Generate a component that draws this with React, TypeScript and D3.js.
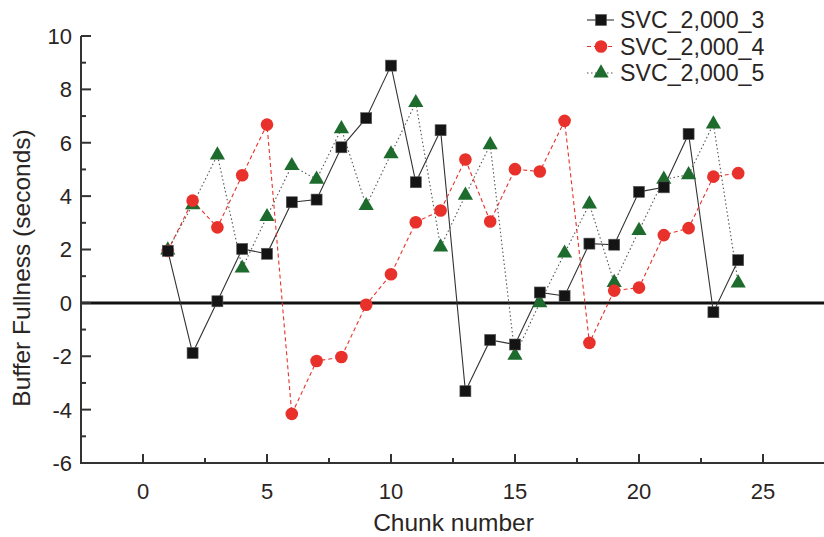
import React from "react";
import * as d3 from "d3";

const chunks = [1,2,3,4,5,6,7,8,9,10,11,12,13,14,15,16,17,18,19,20,21,22,23,24];
const svc3 = [1.95,-1.88,0.06,2.02,1.84,3.77,3.87,5.83,6.92,8.89,4.52,6.47,-3.31,-1.39,-1.56,0.39,0.26,2.22,2.18,4.16,4.33,6.33,-0.35,1.6];
const svc4 = [1.95,3.83,2.83,4.78,6.68,-4.16,-2.18,-2.03,-0.07,1.07,3.02,3.46,5.37,3.05,5.01,4.92,6.82,-1.5,0.46,0.57,2.54,2.8,4.73,4.86];
const svc5 = [1.98,3.67,5.54,1.3,3.23,5.14,4.63,6.52,3.64,5.58,7.5,2.09,4.03,5.92,-1.97,0.0,1.86,3.7,0.76,2.71,4.63,4.8,6.7,0.74];
const seriesNames = ["SVC_2,000_3","SVC_2,000_4","SVC_2,000_5"];
const yTicks = [-6,-4,-2,0,2,4,6,8,10];
const xTicks = [0,5,10,15,20,25];
const yMinor = [-5,-3,-1,1,3,5,7,9];
const xMinor = [-2.5,2.5,7.5,12.5,17.5,22.5,27.5];

const W = 824, H = 537;
const x = d3.scaleLinear().domain([-2.5, 27.5]).range([81, 825]);
const y = d3.scaleLinear().domain([-6, 10]).range([463, 36]);
const font = "Arial, 'Liberation Sans', sans-serif";
const textColor = "#2a2523";

const styles = [
  { color: "#1a1a1a", line: "#333", dash: "", marker: "square", fill: "#141414" },
  { color: "#e8312a", line: "#e8312a", dash: "4,3", marker: "circle", fill: "#e8312a" },
  { color: "#1e6b2e", line: "#555", dash: "1.5,2.5", marker: "triangle", fill: "#1e6b2e" },
];

function Marker({ kind, cx, cy, fill }: { kind: string; cx: number; cy: number; fill: string }) {
  if (kind === "square") return <rect x={cx - 5.5} y={cy - 5.5} width={11} height={11} fill={fill} stroke="#555" strokeWidth={0.6} />;
  if (kind === "circle") return <circle cx={cx} cy={cy} r={6.3} fill={fill} />;
  const p = d3.symbol().type(d3.symbolTriangle).size(100)();
  return <path d={p || ""} transform={`translate(${cx},${cy})`} fill={fill} />;
}

export default function App() {
  const data = [svc3, svc4, svc5];
  const line = d3.line<number>().x((_, i) => x(chunks[i])).y((v) => y(v));
  return (
    <svg width={W} height={H} style={{ position: "absolute", left: 0, top: 0, background: "#fff" }}>
      <line x1={81} x2={824} y1={y(0)} y2={y(0)} stroke="#111" strokeWidth={3} />
      <line x1={81} x2={81} y1={y(10)} y2={y(-6) + 1} stroke="#333" strokeWidth={2} />
      <line x1={80} x2={825} y1={y(-6)} y2={y(-6)} stroke="#333" strokeWidth={2} />
      {yTicks.map((t) => (
        <g key={"y" + t}>
          <line x1={81} x2={91} y1={y(t)} y2={y(t)} stroke="#333" strokeWidth={2} />
          <text x={72} y={y(t)} dy="0.36em" textAnchor="end" fontSize={22} fontFamily={font} fill={textColor}>{t}</text>
        </g>
      ))}
      {yMinor.map((t) => (
        <line key={"ym" + t} x1={81} x2={86} y1={y(t)} y2={y(t)} stroke="#333" strokeWidth={2} />
      ))}
      {xTicks.map((t) => (
        <g key={"x" + t}>
          <line x1={x(t)} x2={x(t)} y1={y(-6)} y2={y(-6) - 9} stroke="#333" strokeWidth={2} />
          <text x={x(t)} y={499} textAnchor="middle" fontSize={22} fontFamily={font} fill={textColor}>{t}</text>
        </g>
      ))}
      {xMinor.map((t) => (
        <line key={"xm" + t} x1={x(t)} x2={x(t)} y1={y(-6)} y2={y(-6) - 5} stroke="#333" strokeWidth={2} />
      ))}
      <text x={453.5} y={531} textAnchor="middle" fontSize={24.5} fontFamily={font} fill={textColor}>Chunk number</text>
      <text transform="translate(30,268) rotate(-90)" textAnchor="middle" fontSize={24.5} fontFamily={font} fill={textColor}>Buffer Fullness (seconds)</text>
      {data.map((d, si) => (
        <path key={"l" + si} d={line(d) || ""} fill="none" stroke={styles[si].line} strokeWidth={1.1} strokeDasharray={styles[si].dash} />
      ))}
      {[2, 1, 0].map((si) =>
        data[si].map((v, i) => (
          <Marker key={`m${si}-${i}`} kind={styles[si].marker} cx={x(chunks[i])} cy={y(v)} fill={styles[si].fill} />
        ))
      )}
      {seriesNames.map((n, i) => {
        const ly = 20 + i * 26.5;
        return (
          <g key={"lg" + i}>
            <line x1={587} x2={614} y1={ly} y2={ly} stroke={styles[i].line} strokeWidth={1.1} strokeDasharray={styles[i].dash} />
            <Marker kind={styles[i].marker} cx={601} cy={ly} fill={styles[i].fill} />
            <text x={620} y={ly} dy="0.36em" fontSize={23.2} fontFamily={font} fill={textColor}>{n}</text>
          </g>
        );
      })}
    </svg>
  );
}
